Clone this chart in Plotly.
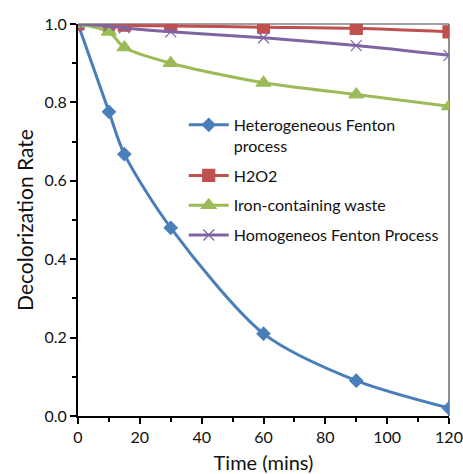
import plotly.graph_objects as go

time = [0, 10, 15, 30, 60, 90, 120]
hetero = [1.0, 0.776, 0.668, 0.48, 0.21, 0.09, 0.02]
h2o2 = [1.0, 1.0, 0.997, 0.995, 0.992, 0.989, 0.98]
iron = [1.0, 0.98, 0.94, 0.90, 0.85, 0.82, 0.79]
homo = [1.0, 0.995, 0.99, 0.98, 0.965, 0.945, 0.92]

names = ["Heterogeneous Fenton<br>process", "H2O2", "Iron-containing waste", "Homogeneos Fenton Process"]
colors = ["#4a7ebb", "#c0504d", "#9bbb59", "#8064a2"]
symbols = ["diamond", "square", "triangle-up", "x-thin"]
sizes = [10, 12, 13, 11]
series = [hetero, h2o2, iron, homo]

fig = go.Figure()
for i, (y, n, c, s, sz) in enumerate(zip(series, names, colors, symbols, sizes)):
    fig.add_trace(go.Scatter(
        x=time, y=y, name=n, mode="lines+markers",
        line=dict(color=c, width=3, shape="spline", smoothing=0.8),
        marker=dict(symbol=s, size=sz, color=c, line=dict(color=c, width=1.2)),
        legendgroup=f"g{i}",
    ))

FONT = "Lato, Open Sans, sans-serif"
fig.update_layout(
    width=463, height=474,
    margin=dict(l=78, r=14, t=24, b=58),
    paper_bgcolor="white", plot_bgcolor="white",
    font=dict(family=FONT, color="#111", size=16),
    showlegend=True,
    legend=dict(x=0.285, y=0.786, xanchor="left", yanchor="top",
                bgcolor="rgba(0,0,0,0)", font=dict(size=16),
                tracegroupgap=6, valign="top", itemwidth=40),
    xaxis=dict(range=[0, 120], tickvals=[0, 20, 40, 60, 80, 100, 120],
               ticks="outside", ticklen=6, tickwidth=1.5, tickcolor="#000",
               minor=dict(dtick=10, ticks="outside", ticklen=4, tickcolor="#000", tickwidth=1.5),
               showline=True, linecolor="#000", linewidth=2, mirror=False,
               showgrid=False, zeroline=False, automargin=False,
               title=dict(text="Time (mins)", font=dict(size=20), standoff=14)),
    yaxis=dict(range=[0, 1.0], tickvals=[0, 0.2, 0.4, 0.6, 0.8, 1.0], tickformat=".1f",
               ticks="outside", ticklen=6, tickwidth=1.5, tickcolor="#000",
               minor=dict(dtick=0.1, ticks="outside", ticklen=4, tickcolor="#000", tickwidth=1.5),
               showline=True, linecolor="#000", linewidth=2,
               showgrid=False, zeroline=False, automargin=False,
               title=dict(text="Decolorization Rate", font=dict(size=21), standoff=5)),
)
# thin frame on top and right
fig.add_shape(type="line", xref="paper", yref="paper", x0=0, x1=1, y0=1, y1=1,
              line=dict(color="#444", width=1.2), layer="below")
fig.add_shape(type="line", xref="paper", yref="paper", x0=1, x1=1, y0=0, y1=1,
              line=dict(color="#444", width=1.2), layer="below")

fig.write_html("out.html")
